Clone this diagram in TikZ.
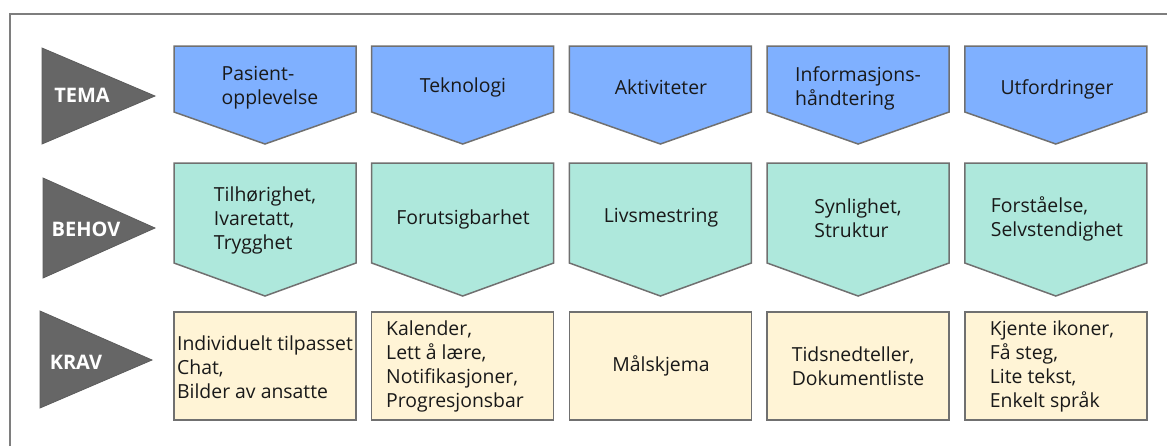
\documentclass[tikz,border=0pt]{standalone}
\usepackage{fontspec}
\setmainfont{Open Sans}
\definecolor{temablue}{HTML}{7FB0FF}
\definecolor{behovgreen}{HTML}{AEE8DC}
\definecolor{kravyellow}{HTML}{FFF4D6}
\definecolor{edgegray}{HTML}{707070}
\definecolor{arrowgray}{HTML}{666666}
\begin{document}
\begin{tikzpicture}[x=0.5pt,y=-0.5pt,
    shape edge/.style={draw=edgegray,line width=0.75pt},
    tema/.style={shape edge,fill=temablue},
    behov/.style={shape edge,fill=behovgreen},
    krav/.style={shape edge,fill=kravyellow},
    rowlabel/.style={text=white,font=\bfseries\fontsize{10}{12}\selectfont},
    txt/.style={align=left,inner sep=0pt,text=black!90,font=\fontsize{9.7}{12}\selectfont}]
%\draw [help lines] (0,0) grid (1167,446);
    \useasboundingbox (0,0) rectangle (1167,446);
    \draw [edgegray!90,line width=0.75pt] (10,446) -- (10,14) -- (1167,14);
    % row heads
    \draw [fill=arrowgray,draw=arrowgray!90!black] (42,48) -- (155,96) -- (42,144) -- cycle;
    \draw [fill=arrowgray,draw=arrowgray!90!black] (43,178) -- (155,228) -- (43,278) -- cycle;
    \draw [fill=arrowgray,draw=arrowgray!90!black] (40,311) -- (152,360) -- (40,408) -- cycle;
    \node [rowlabel] (tema) at (82,95) {TEMA};
    \node [rowlabel] (behov) at (86,229) {BEHOV};
    \node [rowlabel] (krav) at (76,362) {KRAV};
    % columns
    \foreach \i in {0,...,4} {
        \pgfmathsetmacro\xa{174+197.7*\i}
        \pgfmathsetmacro\xb{\xa+182}
        \pgfmathsetmacro\xm{\xa+91}
        \draw [tema] (\xa,46) -- (\xb,46) -- (\xb,112) -- (\xm,144) -- (\xa,112) -- cycle;
        \draw [behov] (\xa,163) -- (\xb,163) -- (\xb,263) -- (\xm,296) -- (\xa,263) -- cycle;
        \draw [krav] (\xa,312) rectangle (\xb,420);
    }
    % TEMA
    \node [txt] (tema1) at (270,88) {Pasient-\\opplevelse};
    \node [txt] (tema2) at (463,87) {Teknologi};
    \node [txt] (tema3) at (661,87) {Aktiviteter};
    \node [txt] (tema4) at (858,88) {Informasjons-\\håndtering};
    \node [txt] (tema5) at (1057,89) {Utfordringer};
    % BEHOV
    \node [txt] (behov1) at (265,220) {Tilhørighet,\\Ivaretatt,\\Trygghet};
    \node [txt] (behov2) at (463,219) {Forutsigbarhet};
    \node [txt] (behov3) at (661,218) {Livsmestring};
    \node [txt] (behov4) at (858,218) {Synlighet,\\Struktur};
    \node [txt] (behov5) at (1057,219) {Forståelse,\\Selvstendighet};
    % KRAV
    \node [txt] (krav1) at (265,367) {Individuelt tilpasset\\Chat,\\Bilder av ansatte};
    \node [txt] (krav2) at (455,366) {Kalender,\\Lett å lære,\\Notifikasjoner,\\Progresjonsbar};
    \node [txt] (krav3) at (661,366) {Målskjema};
    \node [txt] (krav4) at (858,366) {Tidsnedteller,\\Dokumentliste};
    \node [txt] (krav5) at (1052,366) {Kjente ikoner,\\Få steg,\\Lite tekst,\\Enkelt språk};
\end{tikzpicture}
\end{document}
